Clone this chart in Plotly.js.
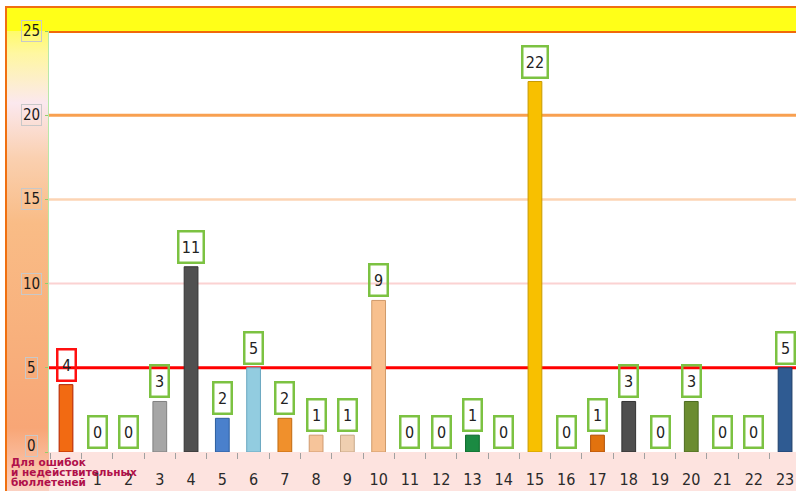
<!DOCTYPE html>
<html>
<head>
<meta charset="utf-8">
<script src="https://cdn.plot.ly/plotly-3.0.1.min.js"></script>
<style>
  html, body { margin:0; padding:0; background:#ffffff; }
  #wrap { position:relative; width:796px; height:491px; overflow:hidden; }
  #frame { position:absolute; left:5px; top:6px; width:791px; height:485px; box-sizing:border-box;
    border-left:2px solid #f07010; border-top:2px solid #f07010;
    background: linear-gradient(to bottom, #ffff30 0px, #fff7a0 45px, #fbe8ee 95px, #fad0b0 150px, #f9bc86 215px, #f8b07c 330px, #f8a676 420px, #fbd2c4 485px); }
  #topband { position:absolute; left:7px; top:8px; width:789px; height:23px; background:#ffff18; }
  #botband { position:absolute; left:49px; top:452px; width:747px; height:39px; background:#fde3df; }
  #chart { position:absolute; left:0; top:0; width:796px; height:491px; }
</style>
</head>
<body>
<div id="wrap">
  <div id="frame"></div>
  <div id="topband"></div>
  <div id="botband"></div>
  <div id="chart"></div>
</div>
<script>
// ---- data ----
const categories = ["Для ошибок<br>и недействительных<br>бюллетеней","1","2","3","4","5","6","7","8","9","10","11","12","13","14","15","16","17","18","19","20","21","22","23"];
const values = [4,0,0,3,11,2,5,2,1,1,9,0,0,1,0,22,0,1,3,0,3,0,0,5];
const barColors = ["#f26a12","#cccccc","#cccccc","#a6a6a6","#505050","#4a80cc","#92cce0","#f0902c","#f6c49a","#efcfb0","#f8c08e","#cccccc","#cccccc","#1b8a42","#cccccc","#f8c000","#cccccc","#e2720e","#4f4f4f","#cccccc","#6b8c30","#cccccc","#cccccc","#2f5b92"];
const barLines = ["#b02000","#999999","#999999","#808080","#333333","#2c5e9e","#6aa8c0","#c06a10","#d09a70","#c8a888","#d09a6a","#999999","#999999","#0e6a2c","#999999","#c89a00","#999999","#b05008","#333333","#999999","#4c6a1e","#999999","#999999","#1e3e68"];
const labelBorder = ["#ff1010","#7cc242","#7cc242","#7cc242","#7cc242","#7cc242","#7cc242","#7cc242","#7cc242","#7cc242","#7cc242","#7cc242","#7cc242","#7cc242","#7cc242","#7cc242","#7cc242","#7cc242","#7cc242","#7cc242","#7cc242","#7cc242","#7cc242","#7cc242"];
const yTicks = [0,5,10,15,20,25];
const refLevels = [10,15,20,25,5];
const refColors = ["#fbd2d2","#fcd4b4","#f8a050","#f06a0a","#ff0000"];
const refWidths = [2,2.5,3,4,3];

const tickText = categories.map((c,i)=> i===0 ? "" : c);

const trace = {
  type:"bar",
  x: categories,
  y: values,
  marker:{ color: barColors, line:{ color: barLines, width: values.map(v => v > 0 ? 1 : 0) } },
  hoverinfo:"x+y"
};

const annotations = [];
// value labels
values.forEach((v,i)=>{
  const s = String(v);
  annotations.push({
    x: categories[i], y: v, xref:"x", yref:"y",
    text: s, showarrow:false, yanchor:"bottom", yshift:3,
    width: s.length === 1 ? 14 : 21, height: 27,
    font:{ family:"DejaVu Sans Condensed, Liberation Sans Narrow, sans-serif", size:16, color:"#222222" },
    bordercolor: labelBorder[i], borderwidth:2.5, borderpad:1, bgcolor:"rgba(0,0,0,0)"
  });
});
// y tick labels in thin boxes
yTicks.forEach(t=>{
  annotations.push({
    x:-0.023, xref:"paper", y:t, yref:"y", yshift: (t === 0 ? 6 : 0), text:String(t), showarrow:false,
    xanchor:"center", yanchor:"middle",
    font:{ family:"DejaVu Sans Condensed, Liberation Sans Narrow, sans-serif", size:15, color:"#1a1a1a" },
    bordercolor:"#c8c8c8", borderwidth:1, borderpad:1
  });
});
// first-category label (split into lines)
categories[0].split("<br>").forEach((line,k)=>{
  annotations.push({
    x:-0.053, xref:"paper", y:0, yref:"paper", text:line, showarrow:false,
    xanchor:"left", yanchor:"top", yshift:-2 - k*10,
    font:{ family:"DejaVu Sans, sans-serif", size:10.5, color:"#b0104a", weight:"bold" }
  });
});

const shapes = refLevels.map((lv,i)=>({
  type:"line", xref:"paper", x0:0, x1:1, yref:"y", y0:lv, y1:lv,
  line:{ color: refColors[i], width: refWidths[i] }, layer:"below"
}));

const layout = {
  width:796, height:491,
  margin:{ l:49, r:0, t:31, b:39, pad:0 },
  paper_bgcolor:"rgba(0,0,0,0)",
  plot_bgcolor:"#ffffff",
  showlegend:false,
  bargap:0.56,
  xaxis:{
    type:"category", range:[-0.544, 23.35], fixedrange:true,
    tickvals: categories, ticktext: tickText,
    tickson:"boundaries", ticks:"outside", ticklen:6, tickcolor:"#a0a0a0", tickwidth:1,
    ticklabelstandoff:16,
    showgrid:false, showline:false, zeroline:false,
    tickfont:{ family:"DejaVu Sans Condensed, Liberation Sans Narrow, sans-serif", size:16, color:"#2a2a2a" }
  },
  yaxis:{
    range:[0,25], tickvals: yTicks, showticklabels:false,
    ticks:"outside", ticklen:3, tickcolor:"#8fd06a",
    showgrid:false, zeroline:false, showline:true, linecolor:"#b8e8a8", linewidth:1
  },
  shapes: shapes,
  annotations: annotations
};

Plotly.newPlot("chart", [trace], layout, { displayModeBar:false, staticPlot:true });
</script>
</body>
</html>
